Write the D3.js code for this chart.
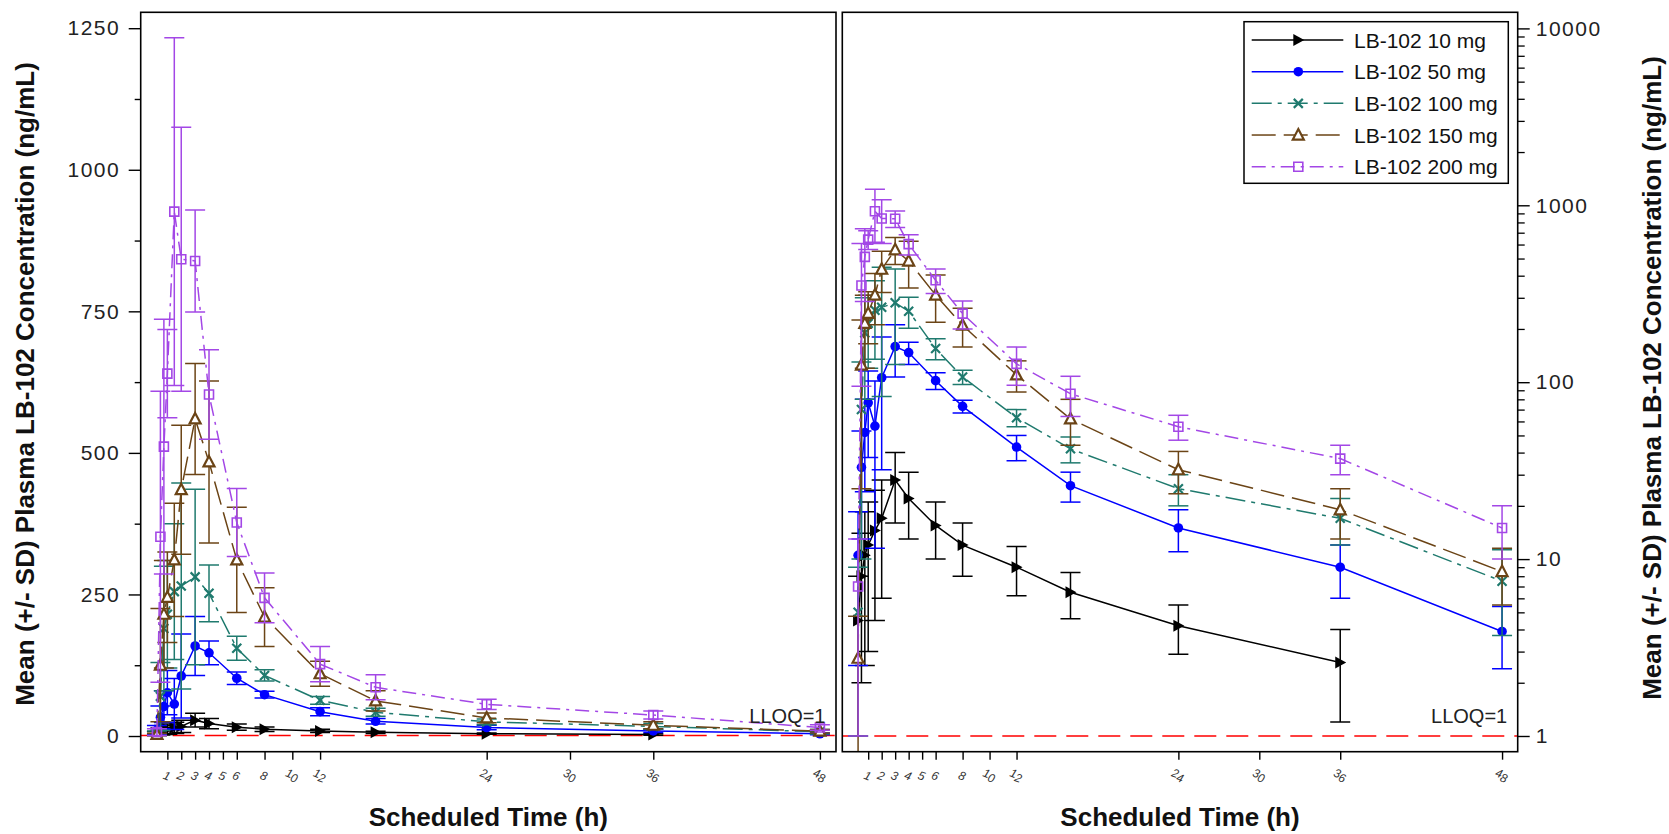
<!DOCTYPE html>
<html>
<head>
<meta charset="utf-8">
<script src="https://cdnjs.cloudflare.com/ajax/libs/d3/7.8.5/d3.min.js"></script>
<style>
  html, body { margin: 0; padding: 0; background: #fff; }
  svg { display: block; }
  text { font-family: "Liberation Sans", Arial, Helvetica, sans-serif; }
</style>
</head>
<body>
<svg id="chart" width="1669" height="834"></svg>
<script>
// ---------------- data ----------------
const times = [0.25, 0.5, 0.75, 1, 1.5, 2, 3, 4, 6, 8, 12, 16, 24, 36, 48];

const doseLabels = ["LB-102 10 mg", "LB-102 50 mg", "LB-102 100 mg", "LB-102 150 mg", "LB-102 200 mg"];

const mean10  = [4.5, 8, 10.5, 12, 14.5, 17, 28, 22, 15.5, 12, 9, 6.5, 4.2, 2.6, null];
const sd10    = [3.5, 6, 8, 9, 10, 11, 12, 9, 5.5, 4, 2.8, 1.9, 1.3, 1.4, null];

const mean50  = [10.5, 33, 52, 76.5, 56.5, 106, 159, 147, 102, 73, 43, 26, 15, 9, 3.9];
const sd50    = [8, 20, 28, 39, 45, 74, 52, 21, 11, 6, 7, 5, 4, 3, 1.5];

const mean100 = [5, 70, 190, 215, 255, 265, 281, 252, 155, 107, 63, 42, 25, 17, 7.5];
const sd100   = [4, 60, 110, 95, 120, 182, 155, 50, 21, 10, 7, 7, 5, 5, 3.8];

const mean150 = [2.75, 125, 215, 245, 311, 435, 560, 484, 311, 210, 110, 62, 32, 19, 8.5];
const sd150   = [2, 100, 95, 80, 100, 114, 98, 143, 93, 52, 22, 18, 8.6, 6, 3];

const mean200 = [7, 352, 511, 640, 926, 842, 839, 603, 377, 244, 127, 86, 56, 37, 15];
const sd200   = [6, 257, 225, 78, 307, 233, 90, 79, 60, 44, 31, 22, 9, 7, 5];

const xTickValues = [1, 2, 3, 4, 5, 6, 8, 10, 12, 24, 30, 36, 48];
const leftYTicks = [0, 250, 500, 750, 1000, 1250];
const leftYMinor = [125, 375, 625, 875, 1125];
const rightYTicks = [1, 10, 100, 1000, 10000];
const lloq = 1;

const xTitle = "Scheduled Time (h)";
const yTitle = "Mean (+/- SD) Plasma LB-102 Concentration (ng/mL)";
const lloqLabel = "LLOQ=1";

// ---------------- styles ----------------
const seriesStyle = [
  { color: "#000000", dash: null,          marker: "rtri"   },
  { color: "#0000FF", dash: null,          marker: "circle" },
  { color: "#1F7A6E", dash: "20,6,4,6",    marker: "x"      },
  { color: "#6B4416", dash: "24,8",        marker: "tri"    },
  { color: "#A347E6", dash: "14,6,3,6",    marker: "square" }
];
const means = [mean10, mean50, mean100, mean150, mean200];
const sds = [sd10, sd50, sd100, sd150, sd200];
const series = means.map((m, i) => ({
  label: doseLabels[i],
  style: seriesStyle[i],
  pts: times.map((t, j) => ({ t, m: m[j], sd: sds[i][j] })).filter(p => p.m != null)
}));

const svg = d3.select("#chart");
svg.append("rect").attr("width", 1669).attr("height", 834).attr("fill", "#fff");

const xDom = [-0.92, 49.16];
const plotTop = 12.3, plotBottom = 751.7;
const panels = [
  { id: "lin", x: d3.scaleLinear().domain(xDom).range([140.7, 836]),
    y: d3.scaleLinear().domain([-27.7, 1278.1]).range([plotBottom, plotTop]) },
  { id: "log", x: d3.scaleLinear().domain(xDom).range([842.3, 1517.7]),
    y: d3.scaleLog().domain([Math.pow(10, -0.0888), Math.pow(10, 4.091)]).range([plotBottom, plotTop]) }
];

function markerPath(type) {
  switch (type) {
    case "rtri": return "M-5,-6L6,0L-5,6Z";
    case "tri": return "M0,-6L5.5,4.5L-5.5,4.5Z";
    case "square": return "M-4.5,-4.5H4.5V4.5H-4.5Z";
    case "x": return "M-4.5,-4.5L4.5,4.5M-4.5,4.5L4.5,-4.5";
  }
}
function drawMarker(g, type, color) {
  if (type === "circle") {
    g.append("circle").attr("r", 4.8).attr("fill", color);
  } else if (type === "rtri") {
    g.append("path").attr("d", markerPath(type)).attr("fill", color);
  } else if (type === "x") {
    g.append("path").attr("d", markerPath(type)).attr("fill", "none").attr("stroke", color).attr("stroke-width", 2.2);
  } else if (type === "tri") {
    g.append("path").attr("d", markerPath(type)).attr("fill", "#fff").attr("stroke", color).attr("stroke-width", 2.2);
  } else if (type === "square") {
    g.append("path").attr("d", markerPath(type)).attr("fill", "none").attr("stroke", color).attr("stroke-width", 1.6);
  }
}

panels.forEach((P, pi) => {
  const [xl, xr] = P.x.range();
  const clipId = "clip" + pi;
  svg.append("clipPath").attr("id", clipId).append("rect")
    .attr("x", xl).attr("y", plotTop).attr("width", xr - xl).attr("height", plotBottom - plotTop);
  const plot = svg.append("g").attr("clip-path", `url(#${clipId})`);

  // LLOQ line
  plot.append("line")
    .attr("x1", xl).attr("x2", xr)
    .attr("y1", P.y(lloq)).attr("y2", P.y(lloq))
    .attr("stroke", "#FF0000").attr("stroke-width", 1.6).attr("stroke-dasharray", "22,10");

  series.forEach(s => {
    const c = s.style.color;
    const g = plot.append("g");
    const yMin = P.y.domain()[0];
    // error bars
    s.pts.forEach(p => {
      const cx = P.x(p.t);
      const hi = p.m + p.sd;
      const lo = p.m - p.sd;
      const loClipped = lo <= yMin;
      const yHi = P.y(hi);
      const yLo = loClipped ? plotBottom + 5 : P.y(lo);
      g.append("line").attr("x1", cx).attr("x2", cx).attr("y1", yHi).attr("y2", yLo)
        .attr("stroke", c).attr("stroke-width", 1.5);
      g.append("line").attr("x1", cx - 10).attr("x2", cx + 10).attr("y1", yHi).attr("y2", yHi)
        .attr("stroke", c).attr("stroke-width", 1.5);
      if (!loClipped) {
        g.append("line").attr("x1", cx - 10).attr("x2", cx + 10).attr("y1", yLo).attr("y2", yLo)
          .attr("stroke", c).attr("stroke-width", 1.5);
      }
    });
    // line
    const line = d3.line().x(p => P.x(p.t)).y(p => P.y(p.m));
    g.append("path").attr("d", line(s.pts)).attr("fill", "none")
      .attr("stroke", c).attr("stroke-width", 1.5)
      .attr("stroke-dasharray", s.style.dash);
    // markers
    s.pts.forEach(p => {
      const mg = g.append("g").attr("transform", `translate(${P.x(p.t)},${P.y(p.m)})`);
      drawMarker(mg, s.style.marker, c);
    });
  });

  // LLOQ text
  svg.append("text").attr("x", xr - 10.5).attr("y", 723)
    .attr("text-anchor", "end").attr("font-size", 20).attr("fill", "#222")
    .text(lloqLabel);

  // frame
  svg.append("rect").attr("x", xl).attr("y", plotTop).attr("width", xr - xl).attr("height", plotBottom - plotTop)
    .attr("fill", "none").attr("stroke", "#000").attr("stroke-width", 1.6);

  // x axis ticks
  const xAxis = d3.axisBottom(P.x).tickValues(xTickValues).tickSize(8).tickFormat("");
  const gx = svg.append("g").attr("transform", `translate(0,${plotBottom})`).call(xAxis);
  gx.select(".domain").remove();
  gx.selectAll(".tick line").attr("stroke", "#000").attr("stroke-width", 1.4);

  // x tick labels (small, slanted)
  svg.append("g").selectAll("text").data(xTickValues).join("text")
    .attr("transform", d => `translate(${P.x(d)},778) rotate(45)`)
    .attr("text-anchor", "middle").attr("dominant-baseline", "central")
    .attr("font-size", 12).attr("fill", "#333").attr("font-style", "italic")
    .attr("rotate", -25)
    .text(d => d);

  // x title
  svg.append("text").attr("x", (xl + xr) / 2).attr("y", 826)
    .attr("text-anchor", "middle").attr("font-size", 26).attr("font-weight", "bold")
    .attr("fill", "#111").text(xTitle);
});

// left y axis
const PL = panels[0], PR = panels[1];
const yAxisL = d3.axisLeft(PL.y).tickValues(leftYTicks).tickSize(12).tickPadding(10)
  .tickFormat(d3.format("d"));
const gyl = svg.append("g").attr("transform", `translate(${PL.x.range()[0]},0)`).call(yAxisL);
gyl.select(".domain").remove();
gyl.selectAll(".tick line").attr("stroke", "#000").attr("stroke-width", 1.4);
gyl.selectAll(".tick text").attr("font-size", 21).attr("fill", "#222")
  .attr("font-family", "'Liberation Sans', Arial, sans-serif").attr("letter-spacing", "1.5px").attr("dx", "1.5");
const gylm = svg.append("g").attr("transform", `translate(${PL.x.range()[0]},0)`)
  .call(d3.axisLeft(PL.y).tickValues(leftYMinor).tickSize(6).tickFormat(""));
gylm.select(".domain").remove();
gylm.selectAll(".tick line").attr("stroke", "#000").attr("stroke-width", 1.4);

// right y axis (log)
const yAxisR = d3.axisRight(PR.y).tickValues(rightYTicks).tickSize(12).tickPadding(6)
  .tickFormat(d3.format("d"));
const gyr = svg.append("g").attr("transform", `translate(${PR.x.range()[1]},0)`).call(yAxisR);
gyr.select(".domain").remove();
gyr.selectAll(".tick line").attr("stroke", "#000").attr("stroke-width", 1.4);
gyr.selectAll(".tick text").attr("font-size", 21).attr("fill", "#222")
  .attr("font-family", "'Liberation Sans', Arial, sans-serif").attr("letter-spacing", "1.5px");
const rightMinor = [];
rightYTicks.forEach(dec => { for (let k = 2; k <= 9; k++) { const v = dec * k; if (v <= PR.y.domain()[1]) rightMinor.push(v); } });
const gyrm = svg.append("g").attr("transform", `translate(${PR.x.range()[1]},0)`)
  .call(d3.axisRight(PR.y).tickValues(rightMinor).tickSize(7).tickFormat(""));
gyrm.select(".domain").remove();
gyrm.selectAll(".tick line").attr("stroke", "#000").attr("stroke-width", 1.3);

// y titles
svg.append("text").attr("transform", "translate(34,384) rotate(-90)")
  .attr("text-anchor", "middle").attr("font-size", 26).attr("font-weight", "bold").attr("fill", "#111")
  .text(yTitle);
svg.append("text").attr("transform", "translate(1661,378) rotate(-90)")
  .attr("text-anchor", "middle").attr("font-size", 26).attr("font-weight", "bold").attr("fill", "#111")
  .text(yTitle);

// legend
const lg = svg.append("g");
lg.append("rect").attr("x", 1244).attr("y", 21.7).attr("width", 264.3).attr("height", 161.6)
  .attr("fill", "#fff").attr("stroke", "#000").attr("stroke-width", 1.5);
const legendY = d3.scaleLinear().domain([0, 4]).range([40, 166.7]);
series.forEach((s, i) => {
  const yy = legendY(i);
  lg.append("line").attr("x1", 1251.7).attr("x2", 1343.3).attr("y1", yy).attr("y2", yy)
    .attr("stroke", s.style.color).attr("stroke-width", 1.5).attr("stroke-dasharray", s.style.dash);
  const mg = lg.append("g").attr("transform", `translate(1298.3,${yy})`);
  drawMarker(mg, s.style.marker, s.style.color);
  lg.append("text").attr("x", 1354).attr("y", yy).attr("dy", "0.36em")
    .attr("font-size", 21).attr("fill", "#111").text(s.label);
});
</script>
</body>
</html>
